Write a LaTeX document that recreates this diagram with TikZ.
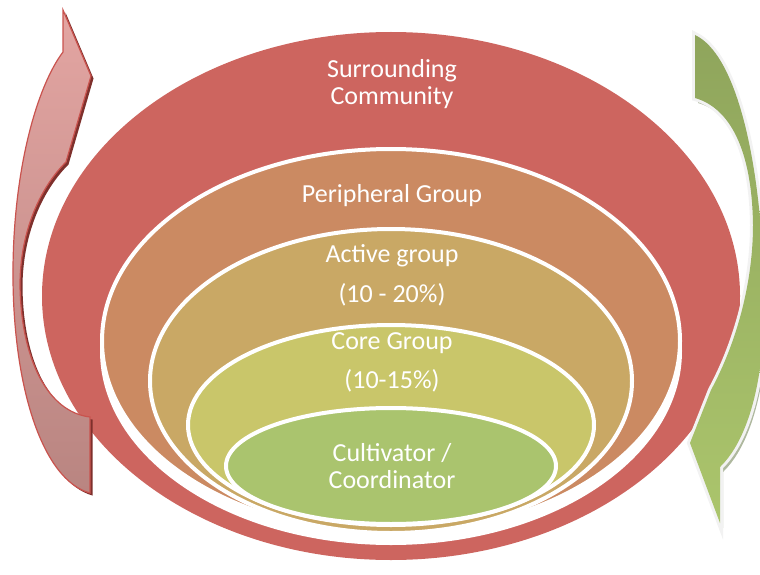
\documentclass[tikz,border=0pt]{standalone}
\usepackage{fontspec}
\setmainfont{Carlito}
\usetikzlibrary{shapes.geometric}

\definecolor{ringRed}{HTML}{CD655F}
\definecolor{ringOrange}{HTML}{CB8A62}
\definecolor{ringTan}{HTML}{C9A865}
\definecolor{ringYellow}{HTML}{C9C66A}
\definecolor{ringGreen}{HTML}{AAC46E}
\definecolor{arrRedTop}{HTML}{E3A5A2}
\definecolor{arrRedMid}{HTML}{D27C77}
\definecolor{arrRedBot}{HTML}{B98581}
\definecolor{arrRedLine}{HTML}{C9534E}
\definecolor{arrRedShadow}{HTML}{7E302C}
\definecolor{arrGreenTop}{HTML}{8FA55C}
\definecolor{arrGreenBot}{HTML}{ABC56C}
\definecolor{arrGreenLine}{HTML}{F2F2F2}
\definecolor{arrGreenShadow}{HTML}{AEB89E}

\tikzset{
  ring/.style={draw=white, line width=4pt},
  label/.style={text=white, font=\fontsize{26}{27}\selectfont, anchor=base, inner sep=0pt},
}

\begin{document}
\begin{tikzpicture}[x=1pt, y=-1pt]
\useasboundingbox (0,0) rectangle (760,575);

% nested rings, outermost first
\fill[ringRed] (391,296) ellipse [x radius=349pt, y radius=264pt];
% white gap under the peripheral ring
\fill[white] (391,351) ellipse [x radius=291pt, y radius=194pt];
\path[ring, fill=ringOrange] (391,341) ellipse [x radius=289pt, y radius=192pt];
\path[ring, fill=ringTan] (391,381) ellipse [x radius=241pt, y radius=152pt];
\path[ring, fill=ringYellow] (391,425) ellipse [x radius=203pt, y radius=100pt];
\path[ring, fill=ringGreen] (391,466) ellipse [x radius=165pt, y radius=58pt];

% labels
\node[label] (surr) at (392,78) {Surrounding};
\node[label] (comm) at (392,105) {Community};
\node[label] (peri) at (392,202) {Peripheral Group};
\node[label] (act) at (392,262) {Active group};
\node[label] (actp) at (392,302) {(10 - 20\%)};
\node[label] (core) at (392,349) {Core Group};
\node[label] (corep) at (392,388) {(10-15\%)};
\node[label] (cult) at (392,461) {Cultivator /};
\node[label] (coord) at (392,488) {Coordinator};

% left curved arrow (upwards)
\def\leftarrowpath{(90,493) .. controls (42,480) and (12,385) .. (13,268)
  .. controls (14,165) and (38,85) .. (63,52) -- (63,10) -- (91,76) -- (66,162)
  .. controls (38,190) and (20,235) .. (20,285)
  .. controls (21,360) and (48,412) .. (90,417) -- cycle}
\fill[arrRedShadow, shift={(2.5,2.5)}] \leftarrowpath;
\shadedraw[top color=arrRedTop, middle color=arrRedMid, bottom color=arrRedBot,
  draw=arrRedLine, line width=1.2pt, line join=miter] \leftarrowpath;

% right curved arrow (downwards)
\def\rightarrowpath{(695,35) .. controls (738,55) and (763,170) .. (764,300)
  .. controls (765,380) and (748,440) .. (720,467) -- (720,523) -- (690,443) -- (711,390)
  .. controls (738,340) and (753,280) .. (753,225)
  .. controls (752,150) and (730,108) .. (695,98) -- cycle}
\fill[arrGreenShadow, shift={(3,5)}] \rightarrowpath;
\draw[arrGreenLine, line width=6pt, line join=miter] \rightarrowpath;
\shade[top color=arrGreenTop, bottom color=arrGreenBot] \rightarrowpath;
\end{tikzpicture}
\end{document}
